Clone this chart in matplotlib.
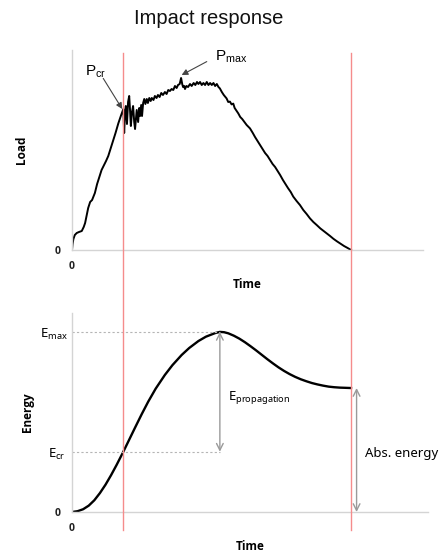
import matplotlib
matplotlib.use("Agg")
import matplotlib.pyplot as plt
from matplotlib.lines import Line2D
from matplotlib import transforms

# ---- data ----
load_t = [0, 0.2, 0.5, 1.0, 1.7, 2.5, 3.5, 4.2, 4.7, 5.2, 5.8, 6.5, 7.2, 8.2, 9.0, 9.8,
          10.6, 11.3, 12.2, 13.0, 13.8, 14.8, 15.6, 16.6, 17.5, 18.4, 18.7, 19.0, 19.3,
          19.7, 20.1, 20.5, 20.8, 21.1, 21.5, 21.9, 22.3, 22.6, 23.0, 23.2, 23.7, 24.1,
          24.4, 24.8, 25.1, 25.5, 25.9, 26.3, 26.8, 27.2, 27.7, 28.2, 28.6, 29.2, 29.7,
          30.3, 30.8, 31.4, 32.0, 32.6, 33.3, 33.9, 34.5, 35.1, 35.7, 36.3, 36.9, 37.5,
          38.0, 38.6, 39.1, 39.5, 39.8, 40.2, 40.5, 41.0, 41.6, 42.3, 42.9, 43.6, 44.2,
          44.8, 45.3, 45.9, 46.5, 47.1, 47.7, 48.3, 48.9, 49.5, 50.1, 50.7, 51.3, 51.9,
          52.5, 53.0, 53.7, 54.4, 55.0, 55.4, 56.0, 56.6, 57.2, 57.8, 58.3, 59.0, 59.6,
          60.3, 61.0, 61.8, 62.6, 63.3, 63.8, 64.8, 65.6, 66.5, 67.4, 68.3, 69.2, 70.1,
          71.0, 71.9, 72.8, 73.7, 74.6, 75.6, 76.5, 77.4, 78.4, 79.3, 80.5, 81.7, 82.9,
          84.1, 85.3, 86.5, 87.7, 89.0, 90.2, 91.3, 92.5, 93.7, 95.0, 96.1, 97.5, 98.8, 100]
load_v = [0, 3, 5.5, 7.5, 8.5, 9, 9.5, 11.5, 13.5, 17, 21, 24, 25, 28.5, 33, 36.5,
          40, 42, 44.5, 47, 50.5, 55, 58.5, 63.3, 67, 70.5, 58.5, 69, 72,
          63, 74, 77, 70, 62, 69, 72, 64, 60.5, 67, 70, 64, 71,
          67, 72.5, 67, 73.5, 75.5, 73, 75.5, 73.5, 76, 74.5, 76, 75, 77,
          76, 77.5, 76.5, 78.5, 77.5, 79, 78, 80, 79.5, 80.5, 80, 82, 81,
          82.5, 83, 86, 83, 81.5, 82, 80.5, 82, 81.5, 83, 82, 83.5, 82.5,
          84, 83, 84, 82.5, 83.5, 82.5, 84, 82.5, 83.5, 82.5, 83.5, 82, 83,
          81.5, 80.8, 79, 77.5, 76.5, 75.8, 74, 74.2, 72.8, 73.2, 71, 69.5, 68.3,
          66.5, 65.5, 64, 62.5, 61.5, 60.8, 58.5, 56.5, 54.5, 52.5, 50.5, 48.5, 47,
          45, 43, 41.5, 39.5, 37.5, 35, 33, 31, 29, 26.7, 24.5, 22.5, 20,
          18, 15.8, 14, 12.5, 10.8, 9.5, 8.3, 7, 5.6, 4.3, 3.3, 2, 1, 0]

energy_t = [0, 2, 4, 6, 8, 10, 12, 14, 16, 18.4, 20, 22.6, 25, 27.3, 30, 33.3, 36,
            39.3, 42, 45.3, 48, 51.3, 53, 54.5, 56, 58, 60, 62, 64, 66, 68, 70, 72, 74,
            76, 78, 80, 82, 84, 86, 88, 90, 92, 94, 96, 98, 100]
energy_v = [0, 0.4, 1.4, 3.2, 5.9, 9.5, 13.7, 18.5, 23.7, 30.3, 34.9, 42.4, 49.2, 55.4,
            62.0, 68.9, 73.8, 78.9, 82.4, 85.9, 88.1, 89.9, 90.5, 90.35, 89.8, 88.6,
            87.1, 85.3, 83.3, 81.2, 79.0, 76.8, 74.7, 72.7, 70.9, 69.3, 67.9, 66.7,
            65.7, 64.8, 64.1, 63.5, 63.0, 62.7, 62.5, 62.4, 62.3]

t_cr = 18.4
t_peak = 53.0
t_end = 100
P_cr = 70.5
E_max = 90.5
E_cr = 30.3
E_abs = 62.3

# ---- figure ----
W, H = 442, 553
fig = plt.figure(figsize=(W / 100, H / 100), dpi=100)

def ax_rect(x0, x1, y_top, y_bot):
    return [x0 / W, 1 - y_bot / H, (x1 - x0) / W, (y_bot - y_top) / H]

ax1 = fig.add_axes(ax_rect(72, 423, 50, 250))
ax2 = fig.add_axes(ax_rect(72, 428, 313, 512))

scale_x = 2.79  # px per time unit
ax1.set_xlim(0, (423 - 72) / scale_x)
ax1.set_ylim(0, 100)
ax2.set_xlim(0, (428 - 72) / scale_x)
ax2.set_ylim(0, 100)

axis_gray = "#d4d4d4"
bold_font = ["Open Sans", "DejaVu Sans"]
e_font = ["Noto Sans", "DejaVu Sans"]
p_font = ["Liberation Sans", "DejaVu Sans"]

for ax in (ax1, ax2):
    for s in ("top", "right"):
        ax.spines[s].set_visible(False)
    for s in ("left", "bottom"):
        ax.spines[s].set_color(axis_gray)
        ax.spines[s].set_linewidth(1.0)
    ax.set_xticks([0])
    ax.set_yticks([0])
    ax.set_xticklabels(["0"], fontfamily=bold_font, fontweight="bold", fontsize=7.5)
    ax.set_yticklabels(["0"], fontfamily=bold_font, fontweight="bold", fontsize=7.5)
    ax.tick_params(axis="both", length=0, colors="#222222")
    ax.tick_params(axis="y", pad=8)
    ax.tick_params(axis="x", pad=8)
    ax.patch.set_visible(False)

ax1.plot(load_t, load_v, color="black", lw=1.4, solid_joinstyle="round")
ax2.plot(energy_t, energy_v, color="black", lw=1.7, solid_joinstyle="round")

# labels
ax1.set_xlabel("Time", fontfamily=bold_font, fontweight="bold", fontsize=8.5, labelpad=4)
ax1.set_ylabel("Load", fontfamily=bold_font, fontweight="bold", fontsize=8.5, labelpad=19)
ax2.set_xlabel("Time", fontfamily=bold_font, fontweight="bold", fontsize=8.5, labelpad=4.5)
ax2.set_ylabel("Energy", fontfamily=bold_font, fontweight="bold", fontsize=8.5, labelpad=15)

fig.text(209 / W, 1 - 19 / H, "Impact response", ha="center", va="center",
         fontfamily=p_font, fontsize=14.5, color="#111111")

# red vertical lines spanning both panels
blend = transforms.blended_transform_factory(ax1.transData, fig.transFigure)
for tx in (t_cr, t_end):
    fig.add_artist(Line2D([tx, tx], [1 - 53 / H, 1 - 530 / H], transform=blend,
                          color="#f58c8c", lw=1.0))

# P annotations
ax1.annotate("", xy=(t_cr - 0.4, P_cr), xytext=(11.2, 85.8),
             arrowprops=dict(arrowstyle="-|>", color="#444444", lw=0.8,
                             mutation_scale=9, shrinkA=0, shrinkB=0))
ax1.annotate("", xy=(39.3, 87.5), xytext=(48.3, 94.2),
             arrowprops=dict(arrowstyle="-|>", color="#444444", lw=0.8,
                             mutation_scale=9, shrinkA=0, shrinkB=0))
ax1.text(4.6, 89.0, r"P$_{\mathregular{cr}}$", ha="left", va="center",
         fontfamily=p_font, fontsize=11)
ax1.text(51.2, 96.5, r"P$_{\mathregular{max}}$", ha="left", va="center",
         fontfamily=p_font, fontsize=11, clip_on=False)

# energy reference lines
grid_gray = "#b5b5b5"
ax2.plot([0, t_peak], [E_max, E_max], color=grid_gray, lw=0.8, ls=(0, (2, 2)))
ax2.plot([0, t_peak], [E_cr, E_cr], color=grid_gray, lw=0.8, ls=(0, (2, 2)))

arrow_gray = "#9a9a9a"
ax2.annotate("", xy=(t_peak, E_cr), xytext=(t_peak, E_max),
             arrowprops=dict(arrowstyle="<->", color=arrow_gray, lw=1.0,
                             mutation_scale=12, shrinkA=0, shrinkB=0))
ax2.annotate("", xy=(102, 0), xytext=(102, E_abs),
             arrowprops=dict(arrowstyle="<->", color=arrow_gray, lw=1.0,
                             mutation_scale=12, shrinkA=0, shrinkB=0),
             annotation_clip=False)

ax2.text(-1.4, E_max - 1.2, r"E$_{\mathregular{max}}$", ha="right", va="center",
         fontfamily=e_font, fontsize=9.5, clip_on=False)
ax2.text(-2.2, E_cr - 1.2, r"E$_{\mathregular{cr}}$", ha="right", va="center",
         fontfamily=e_font, fontsize=9.5, clip_on=False)
ax2.text(55.9, 57.3, r"E$_{\mathregular{propagation}}$", ha="left", va="center",
         fontfamily=e_font, fontsize=9.5)
ax2.text(105, 29.6, "Abs. energy", ha="left", va="center",
         fontfamily=e_font, fontsize=9.5, clip_on=False)

fig.savefig("out.png", dpi=100)
